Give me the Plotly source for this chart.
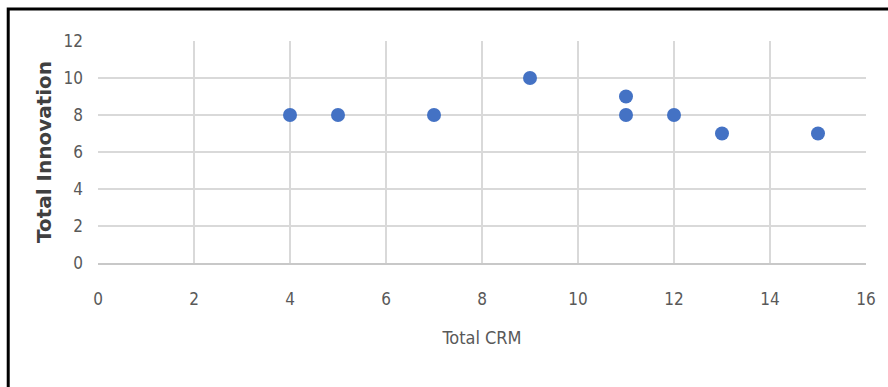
import plotly.graph_objects as go

# Survey totals per respondent
total_crm = [4, 5, 7, 9, 11, 11, 12, 13, 15]
total_innovation = [8, 8, 8, 10, 9, 8, 8, 7, 7]

x_ticks = [0, 2, 4, 6, 8, 10, 12, 14, 16]
y_ticks = [0, 2, 4, 6, 8, 10, 12]

tick_font = dict(family="Liberation Sans Narrow, DejaVu Sans Condensed, Arial Narrow, sans-serif",
                 size=17, color="#595959")

fig = go.Figure()
fig.add_trace(go.Scatter(
    x=total_crm, y=total_innovation, mode="markers",
    marker=dict(color="#4472C4", size=14, line=dict(width=0)),
    showlegend=False,
))

fig.update_xaxes(
    range=[0, 16], tickvals=x_ticks, ticktext=[str(v) for v in x_ticks],
    showgrid=True, gridcolor="#d9d9d9", gridwidth=2,
    zeroline=False, showline=True, linecolor="#c8c8c8", linewidth=2,
    tickfont=tick_font, ticks="", ticklabelstandoff=20,
    title=dict(text="Total CRM", standoff=23,
               font=dict(family="Liberation Sans Narrow, DejaVu Sans Condensed, sans-serif",
                         size=18, color="#595959")),
)
fig.update_yaxes(
    range=[0, 12], tickvals=y_ticks, ticktext=[str(v) for v in y_ticks],
    showgrid=True, gridcolor="#d9d9d9", gridwidth=2,
    zeroline=False, showline=False,
    tickfont=tick_font, ticks="", ticklabelstandoff=14,
    title=dict(text="<b>Total Innovation</b>", standoff=6,
               font=dict(family="DejaVu Sans, sans-serif", size=20, color="#404040")),
)

# Black frame around the chart area
fig.add_shape(type="rect", xref="paper", yref="paper",
              x0=-0.1169, x1=1.05, y0=-0.7, y1=1.144,
              line=dict(color="black", width=3), fillcolor="rgba(0,0,0,0)", layer="above")

fig.update_layout(
    width=888, height=387,
    margin=dict(l=98, r=20, t=41, b=124),
    plot_bgcolor="white", paper_bgcolor="white",
)

fig.write_html("out.html")
